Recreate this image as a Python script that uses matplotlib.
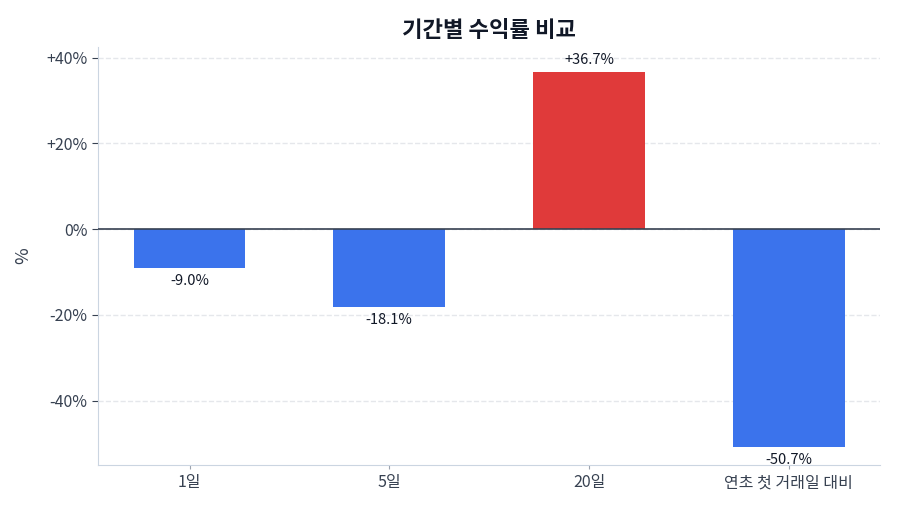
import numpy as np
import matplotlib
matplotlib.use("Agg")
import matplotlib.pyplot as plt

plt.rcParams['font.family'] = ['Noto Sans CJK KR', 'DejaVu Sans']

periods = ['1일', '5일', '20일', '연초 첫 거래일 대비']
returns = [-9.0, -18.1, 36.7, -50.7]

colors = ['#e03a3a' if v > 0 else '#3b73ec' for v in returns]

fig = plt.figure(figsize=(9, 5.14), dpi=100)
ax = fig.add_axes([0.109, 0.095, 0.869, 0.814])

x = np.arange(len(periods))
ax.bar(x, returns, width=0.56, color=colors, zorder=3)

for xi, v in zip(x, returns):
    label = f'{v:+.1f}%'
    if v >= 0:
        ax.annotate(label, (xi, v), xytext=(0, 3), textcoords='offset points',
                    ha='center', va='bottom', fontsize=10.5, color='#111827')
    else:
        ax.annotate(label, (xi, v), xytext=(0, -4.5), textcoords='offset points',
                    ha='center', va='top', fontsize=10.5, color='#111827')

ax.axhline(0, color='#374151', linewidth=1.2, zorder=4)
ax.set_ylim(-55, 42.5)
ax.set_yticks([-40, -20, 0, 20, 40])
ax.set_yticklabels(['-40%', '-20%', '0%', '+20%', '+40%'])
ax.set_xticks(x)
ax.set_xticklabels(periods)
ax.tick_params(axis='both', labelsize=11.5, colors='#374151')
ax.tick_params(axis='x', length=3, color='#9ca3af')
ax.tick_params(axis='y', length=4, color='#374151')

ax.grid(axis='y', linestyle='--', color='#e5e7eb', linewidth=1, zorder=0)
ax.set_axisbelow(True)
for s in ['top', 'right']:
    ax.spines[s].set_visible(False)
ax.spines['left'].set_color('#cbd5e1')
ax.spines['bottom'].set_color('#cbd5e1')

ax.set_ylabel('%', fontsize=13, color='#374151', labelpad=10)
ax.set_title('기간별 수익률 비교', fontsize=16, fontweight='bold', color='#111827', pad=7)

fig.savefig('out.png', dpi=100)
